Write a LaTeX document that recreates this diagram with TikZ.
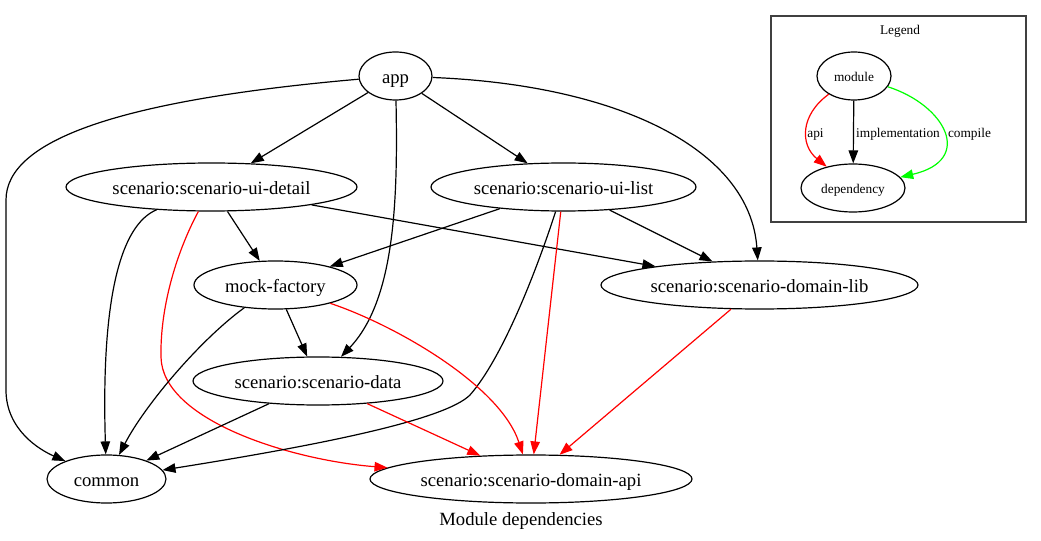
\documentclass[tikz,border=0pt]{standalone}
\usepackage{fontspec}
\setmainfont{Liberation Serif}
\usetikzlibrary{shapes.geometric,arrows.meta}

\begin{document}
\begin{tikzpicture}[x=1bp, y=-1bp, line width=1.2bp, >={Triangle[length=13bp,width=9.5bp]},
  every node/.style={ellipse, draw, inner sep=0pt, minimum height=48bp, text height=14.6bp, text depth=0pt, font=\fontsize{18.67bp}{22bp}\selectfont},
  small/.style={text height=10.8bp, font=\fontsize{13.33bp}{16bp}\selectfont},
  plain/.style={draw=none, minimum height=0pt}]
  \useasboundingbox (0,0) rectangle (1041,541);

  \node[minimum width=73bp]  (app)       at (395.5, 76) {app};
  \node[minimum width=291bp] (ui_detail) at (211.5, 187) {scenario:scenario-ui-detail};
  \node[minimum width=265bp] (ui_list)   at (563.5, 187) {scenario:scenario-ui-list};
  \node[minimum width=163bp] (mock)      at (275.5, 285) {mock-factory};
  \node[minimum width=317bp] (dom_lib)   at (759.5, 285) {scenario:scenario-domain-lib};
  \node[minimum width=250bp] (data)      at (318, 381) {scenario:scenario-data};
  \node[minimum width=119bp] (common)    at (106.5, 479) {common};
  \node[minimum width=322bp] (dom_api)   at (531, 479) {scenario:scenario-domain-api};
  \node[plain] (caption) at (521, 518) {Module dependencies};

  \draw[->] (app) .. controls (120,100) and (6,140) .. (6,200) -- (6,390) .. controls (6,430) and (40,450) .. (common);
  \draw[->] (app) -- (ui_detail);
  \draw[->] (app) -- (ui_list);
  \draw[->] (app) .. controls (398,200) and (395,300) .. (data);
  \draw[->] (app) .. controls (620,85) and (750,150) .. (dom_lib);
  \draw[->] (ui_detail) -- (mock);
  \draw[->] (ui_detail) .. controls (120,225) and (101,300) .. (common);
  \draw[->, red] (ui_detail) .. controls (175,255) and (160,310) .. (161,357) .. controls (162,420) and (290,460) .. (dom_api);
  \draw[->] (ui_detail) -- (dom_lib);
  \draw[->] (ui_list) -- (mock);
  \draw[->] (ui_list) .. controls (540,260) and (505,355) .. (470,395) .. controls (445,420) and (320,445) .. (common);
  \draw[->, red] (ui_list) -- (dom_api);
  \draw[->] (ui_list) -- (dom_lib);
  \draw[->] (mock) -- (data);
  \draw[->] (mock) .. controls (200,340) and (145,405) .. (common);
  \draw[->, red] (mock) .. controls (395,325) and (500,385) .. (dom_api);
  \draw[->, red] (dom_lib) -- (dom_api);
  \draw[->] (data) -- (common);
  \draw[->, red] (data) -- (dom_api);

  % legend
  \draw[black!75, line width=1.3bp] (771,16) rectangle (1026,222);
  \node[plain, small] (leg_title) at (900, 29) {Legend};
  \node[small, minimum width=74bp]  (module)     at (854, 76) {module};
  \node[small, minimum width=104bp] (dependency) at (853, 188) {dependency};
  \node[plain, small] (leg_api)   at (815.5, 132) {api};
  \node[plain, small] (leg_impl)  at (898, 132) {implementation};
  \node[plain, small] (leg_comp)  at (969.5, 132) {compile};

  \draw[->, red] (module) .. controls (800,115) and (800,145) .. (dependency);
  \draw[->] (module) -- (dependency);
  \draw[->, green] (module) .. controls (945,105) and (975,160) .. (dependency);
\end{tikzpicture}
\end{document}
